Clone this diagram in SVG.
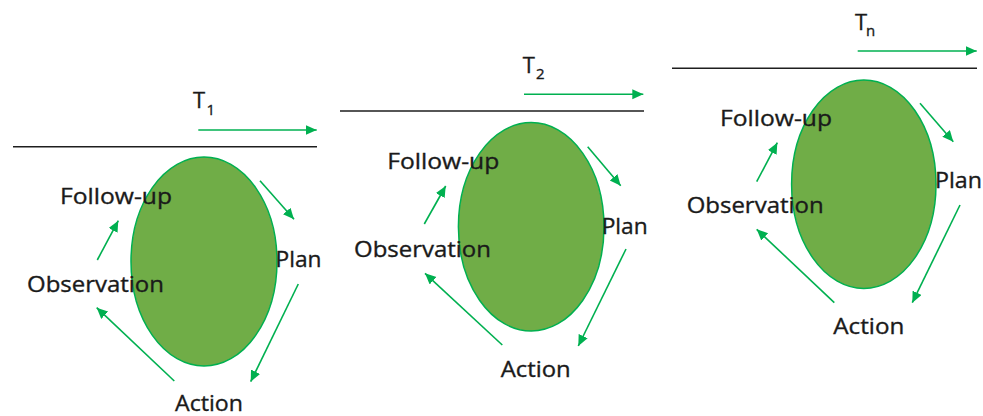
<svg xmlns="http://www.w3.org/2000/svg" width="983" height="416" viewBox="0 0 983 416">
<defs>
<marker id="ah" markerUnits="userSpaceOnUse" markerWidth="12" markerHeight="11" refX="11" refY="5" orient="auto">
<path d="M0,0 L11,5 L0,10 z" fill="#00B050"/>
</marker>
<style>
.bg{fill:#ffffff}
.cyc{fill:#70AD47;stroke:#00B050;stroke-width:1.5}
.tl{stroke:#1e1e1e;stroke-width:1.5;fill:none}
.ar{stroke:#00B050;stroke-width:1.6;fill:none;marker-end:url(#ah)}
.lb{font-family:"Open Sans","Noto Sans","Liberation Sans",sans-serif;font-size:22px;fill:#1a1a1a;stroke:#1a1a1a;stroke-width:0.35}
.sub{font-size:15px}
</style>
</defs>
<rect class="bg" x="0" y="0" width="983" height="416"/>

<g id="cycle1">
<ellipse class="cyc" cx="204" cy="261.5" rx="73" ry="104.5"/>
</g>
<g id="cycle2">
<ellipse class="cyc" cx="531.2" cy="226.8" rx="72.8" ry="104.2"/>
</g>
<g id="cycle3">
<ellipse class="cyc" cx="863.8" cy="184.2" rx="72.2" ry="104.2"/>
</g>

<g id="timelines">
<line class="tl" x1="13" y1="146.7" x2="317" y2="146.7"/>
<line class="tl" x1="340" y1="111" x2="644" y2="111"/>
<line class="tl" x1="672" y1="68.3" x2="977" y2="68.3"/>
</g>

<g id="connectors">
<line class="ar" x1="198.3" y1="130" x2="316.7" y2="130"/>
<line class="ar" x1="260" y1="180.7" x2="294" y2="219.3"/>
<line class="ar" x1="298.3" y1="284" x2="250.7" y2="381.7"/>
<line class="ar" x1="174.3" y1="381" x2="96.7" y2="307.7"/>
<line class="ar" x1="97.3" y1="260" x2="118.3" y2="220.7"/>

<line class="ar" x1="524" y1="94.3" x2="643.3" y2="94.3"/>
<line class="ar" x1="587.7" y1="146.7" x2="620.7" y2="185.7"/>
<line class="ar" x1="626" y1="249" x2="578.3" y2="346"/>
<line class="ar" x1="502.3" y1="345" x2="425" y2="273.3"/>
<line class="ar" x1="424.3" y1="224" x2="445.7" y2="186"/>

<line class="ar" x1="857.7" y1="51" x2="976.7" y2="51"/>
<line class="ar" x1="920" y1="103.3" x2="953.3" y2="141.7"/>
<line class="ar" x1="960" y1="205" x2="912.3" y2="302.7"/>
<line class="ar" x1="834.3" y1="302.7" x2="756.7" y2="229.3"/>
<line class="ar" x1="756.7" y1="181.7" x2="777.3" y2="142.7"/>
</g>

<g id="labels1">
<text class="lb" x="193" y="108.3">T<tspan class="sub" x="206.5" y="115">1</tspan></text>
<text class="lb" x="60" y="204" textLength="112" lengthAdjust="spacingAndGlyphs">Follow-up</text>
<text class="lb" x="27" y="292" textLength="137" lengthAdjust="spacingAndGlyphs">Observation</text>
<text class="lb" x="275.5" y="267" textLength="46" lengthAdjust="spacingAndGlyphs">Plan</text>
<text class="lb" x="175" y="411" textLength="68" lengthAdjust="spacingAndGlyphs">Action</text>
</g>
<g id="labels2">
<text class="lb" x="522.7" y="72.7">T<tspan class="sub" x="536" y="79.3">2</tspan></text>
<text class="lb" x="387.3" y="169" textLength="112" lengthAdjust="spacingAndGlyphs">Follow-up</text>
<text class="lb" x="354" y="256.7" textLength="137" lengthAdjust="spacingAndGlyphs">Observation</text>
<text class="lb" x="601.7" y="234" textLength="46" lengthAdjust="spacingAndGlyphs">Plan</text>
<text class="lb" x="500.7" y="377.3" textLength="70" lengthAdjust="spacingAndGlyphs">Action</text>
</g>
<g id="labels3">
<text class="lb" x="855" y="29.5">T<tspan class="sub" x="866" y="36">n</tspan></text>
<text class="lb" x="720" y="125.7" textLength="112" lengthAdjust="spacingAndGlyphs">Follow-up</text>
<text class="lb" x="686.7" y="213.3" textLength="137" lengthAdjust="spacingAndGlyphs">Observation</text>
<text class="lb" x="935" y="188.3" textLength="47" lengthAdjust="spacingAndGlyphs">Plan</text>
<text class="lb" x="833.3" y="334.3" textLength="71" lengthAdjust="spacingAndGlyphs">Action</text>
</g>
</svg>
